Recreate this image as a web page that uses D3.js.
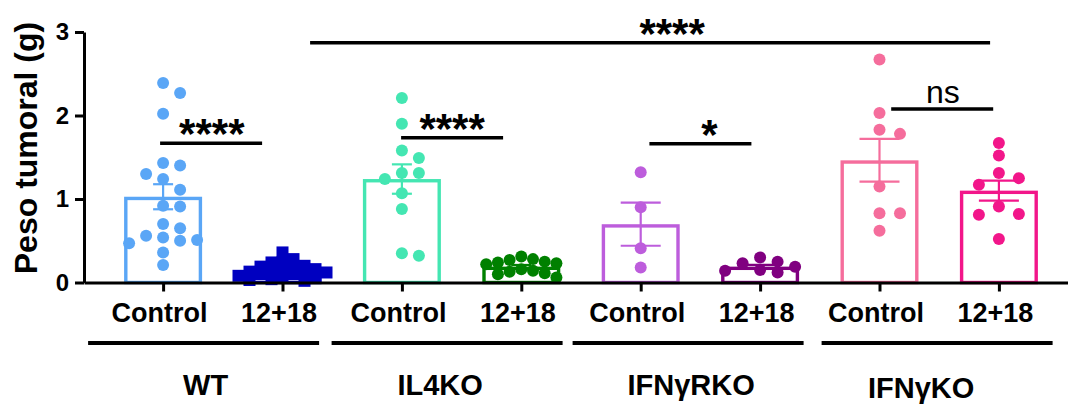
<!DOCTYPE html>
<html><head><meta charset="utf-8">
<script src="https://cdn.jsdelivr.net/npm/d3@7"></script>
<style>
body{margin:0;background:#fff}
svg{display:block}
text{font-family:"Liberation Sans",Arial,Helvetica,sans-serif}
</style>
</head><body>
<svg id="chart" width="1068" height="409"></svg>
<script>
// ---------------- DATA ----------------
const tickLabels = ["Control","12+18","Control","12+18","Control","12+18","Control","12+18"];
const groups = ["WT","IL4KO","IFNγRKO","IFNγKO"];
const yTicks = [0,1,2,3];

const wtControl   = [2.39,2.27,2.02,1.43,1.40,1.30,1.24,1.11,0.92,0.91,0.70,0.65,0.56,0.54,0.51,0.50,0.47,0.36,0.21];
const wtTreated   = [0.36,0.28,0.24,0.24,0.20,0.19,0.19,0.16,0.15,0.14,0.13,0.12,0.11,0.10,0.10,0.08,0.07,0.06,0.04,0.03,0.02];
const il4Control  = [2.21,1.90,1.58,1.49,1.31,1.31,1.24,1.07,0.88,0.32,0.35];
const il4Treated  = [0.24,0.10,0.22,0.27,0.13,0.31,0.16,0.23,0.06,0.28,0.14,0.25,0.11];
const ifngrControl= [1.32,0.90,0.41,0.18];
const ifngrTreated= [0.14,0.23,0.30,0.15,0.19,0.25,0.12];
const ifngControl = [2.67,2.03,1.83,1.78,1.15,0.83,0.83,0.62];
const ifngTreated = [1.67,1.52,1.31,1.25,1.17,0.91,0.82,0.81,0.52];

const means = [1.027,0.14,1.239,0.19,0.698,0.19,1.463,1.10];
const sems  = [0.150,0.02,0.176,0.02,0.258,0.02,0.256,0.12];

const comparisons = [
  {a:0,b:1,y:1.667,label:"****"},
  {a:2,b:3,y:1.734,label:"****"},
  {a:4,b:5,y:1.662,label:"*"},
  {a:6,b:7,y:2.078,label:"ns"},
  {a:1,b:7,y:2.872,label:"****"}
];

// ---------------- STYLE ----------------
const series = [wtControl,wtTreated,il4Control,il4Treated,ifngrControl,ifngrTreated,ifngControl,ifngTreated];
const colors = ["#5aa6f6","#0000c0","#44e6b2","#008000","#bd5ddc","#800080","#f56d9c","#f2168a"];
const shapes = ["circle","square","circle","circle","circle","circle","circle","circle"];
const swarmStep = [17,11,17,11.7,17,17.5,20.5,20];
const swarmMin  = [12,7,12,10,12,10,12,12];
const capW = [20,20,20,20,40,40,40,40];
const font = '"Liberation Sans",Arial,sans-serif';

const svg = d3.select("#chart");
const axisX0 = 84, y0 = 282.5, yTop = 32;

const x = d3.scalePoint().domain(d3.range(8)).range([axisX0, 1078]).padding(0.6625);
const y = d3.scaleLinear().domain([0,3]).range([y0, yTop]);
const barW = 78, barStroke = 3.4;

// bars
const g = svg.append("g");
means.forEach((m,i)=>{
  const cx = x(i);
  g.append("rect")
    .attr("x", cx - barW/2 + barStroke/2)
    .attr("y", y(m) + barStroke/2)
    .attr("width", barW - barStroke)
    .attr("height", y0 - y(m) - barStroke/2)
    .attr("fill","#fff")
    .attr("stroke", colors[i])
    .attr("stroke-width", barStroke);
});
// error bars
means.forEach((m,i)=>{
  const cx = x(i);
  const hi = y(m+sems[i]), lo = y(m-sems[i]);
  const eg = g.append("g").attr("stroke",colors[i]).attr("stroke-width",2.2);
  eg.append("line").attr("x1",cx).attr("x2",cx).attr("y1",hi).attr("y2",lo);
  eg.append("line").attr("x1",cx-capW[i]/2).attr("x2",cx+capW[i]/2).attr("y1",hi).attr("y2",hi);
  eg.append("line").attr("x1",cx-capW[i]/2).attr("x2",cx+capW[i]/2).attr("y1",lo).attr("y2",lo);
});

// beeswarm offsets
function swarm(values, step, minDist){
  const order = values.map((v,i)=>i).sort((a,b)=>values[b]-values[a]);
  const placed = [], off = new Array(values.length).fill(0);
  for (const i of order){
    const py = y(values[i]);
    for (let k=0;k<30;k++){
      const c = k===0 ? 0 : (k%2 ? 1 : -1) * Math.ceil(k/2) * step;
      if (placed.every(p => Math.hypot(p.x-c, p.y-py) >= minDist)){
        off[i]=c; placed.push({x:c,y:py}); break;
      }
    }
  }
  return off;
}

// points
series.forEach((vals,i)=>{
  const cx = x(i);
  const off = swarm(vals, swarmStep[i], swarmMin[i]);
  const pg = svg.append("g").attr("fill", colors[i]);
  if (shapes[i]==="square"){
    pg.selectAll("rect").data(vals).join("rect")
      .attr("x",(d,j)=>cx+off[j]-6).attr("y",d=>y(d)-6)
      .attr("width",12).attr("height",12);
  } else {
    pg.selectAll("circle").data(vals).join("circle")
      .attr("cx",(d,j)=>cx+off[j]).attr("cy",d=>y(d)).attr("r",6);
  }
});

// axes
const xAxis = svg.append("g").attr("transform",`translate(0,${y0})`)
  .call(d3.axisBottom(x).tickSizeInner(9).tickSizeOuter(0).tickFormat(i=>tickLabels[i]));
xAxis.select(".domain").attr("stroke","#000").attr("stroke-width",3);
xAxis.selectAll(".tick line").attr("stroke","#000").attr("stroke-width",3);
xAxis.selectAll(".tick text").attr("y",39).attr("dy",0).attr("dx",-4)
  .attr("font-family",font).attr("font-weight","bold").attr("font-size",27).attr("fill","#000");

const yAxis = svg.append("g").attr("transform",`translate(${axisX0},0)`)
  .call(d3.axisLeft(y).tickValues(yTicks).tickSizeInner(9).tickSizeOuter(0).tickPadding(6).tickFormat(d3.format("d")));
yAxis.select(".domain").attr("stroke","#000").attr("stroke-width",3);
yAxis.selectAll(".tick line").attr("stroke","#000").attr("stroke-width",3);
yAxis.selectAll(".tick text").attr("font-family",font).attr("font-weight","bold").attr("font-size",24).attr("fill","#000");

svg.append("text").attr("transform","translate(37,148) rotate(-90)")
  .attr("text-anchor","middle").attr("font-weight","bold").attr("font-size",32).text("Peso tumoral (g)");

// significance annotations
const lineDx = [-11.7,-9.5,0,3,9.4], lineW = [102,102,102,102,680];
const labelDx = [-11,-9.5,9,3.6,31.4];
comparisons.forEach((c,k)=>{
  const pc = (x(c.a)+x(c.b))/2;
  const lc = pc + lineDx[k];
  const ly = y(c.y);
  svg.append("line").attr("x1",lc-lineW[k]/2).attr("x2",lc+lineW[k]/2)
    .attr("y1",ly).attr("y2",ly).attr("stroke","#000").attr("stroke-width",3.4);
  const isNs = c.label==="ns";
  svg.append("text").attr("x",pc+labelDx[k])
    .attr("y", isNs ? ly-6 : ly+5)
    .attr("text-anchor","middle")
    .attr("font-weight", isNs ? "normal" : "bold")
    .attr("font-size", isNs ? 32 : 42)
    .text(c.label);
});

// group lines & labels
const gLineDx = [-19.2,-14.5,-12.3,-2.1], gLabelDx = [-17.2,-21.5,-9.3,-18.1], gLabelY = [395,395,395,398];
groups.forEach((name,k)=>{
  const pc = (x(2*k)+x(2*k+1))/2;
  const lc = pc + gLineDx[k];
  svg.append("line").attr("x1",lc-115.5).attr("x2",lc+115.5).attr("y1",343).attr("y2",343)
    .attr("stroke","#000").attr("stroke-width",4);
  svg.append("text").attr("x",pc+gLabelDx[k]).attr("y",gLabelY[k])
    .attr("text-anchor","middle").attr("font-weight","bold").attr("font-size",29).text(name);
});
</script>
</body></html>
